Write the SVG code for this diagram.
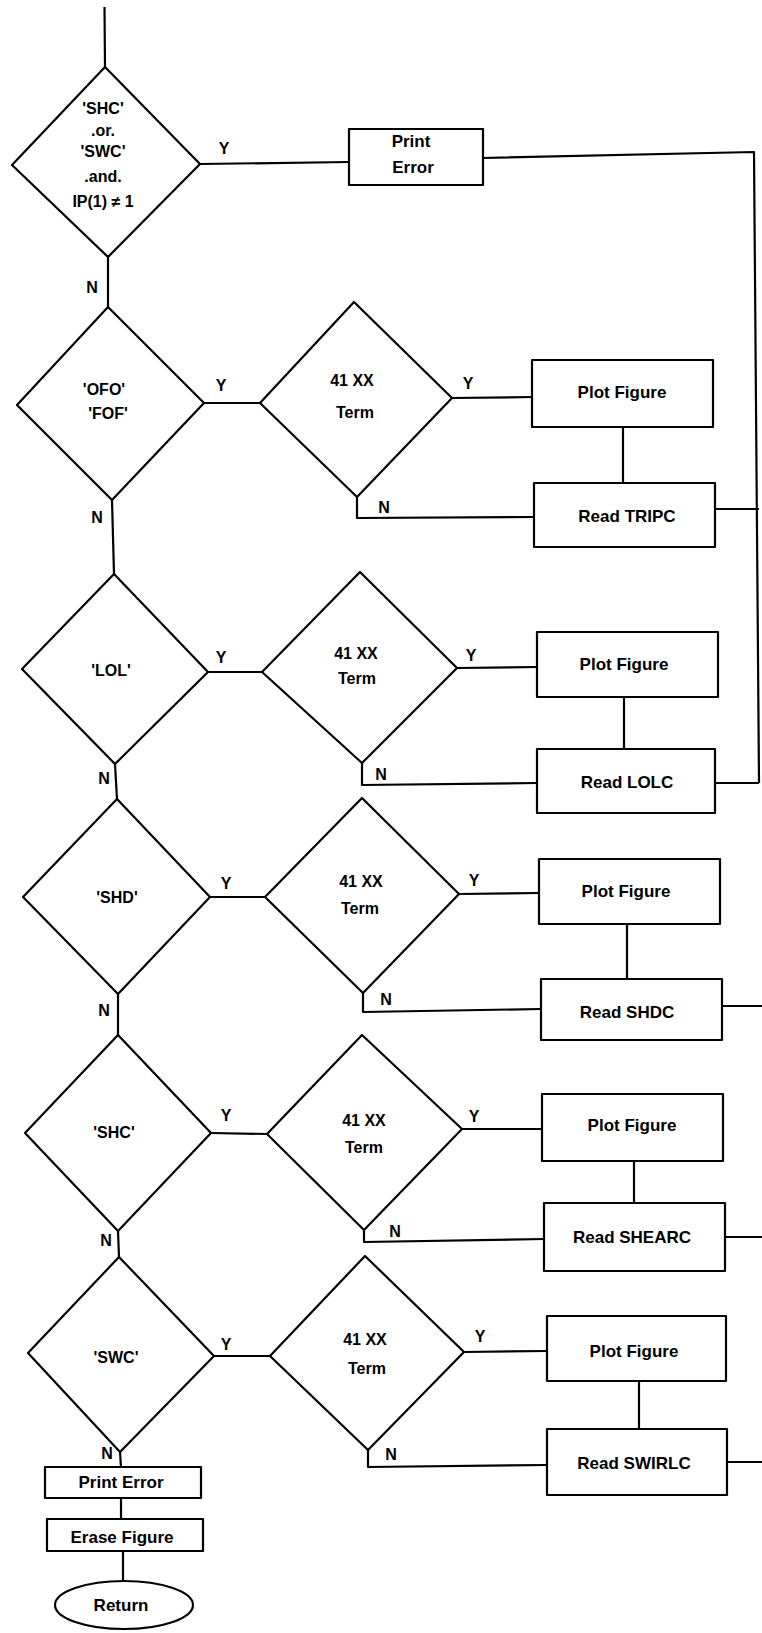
<svg xmlns="http://www.w3.org/2000/svg" width="762" height="1633" viewBox="0 0 762 1633">
<style>
.s{fill:#fff;stroke:#000;stroke-width:2.2;stroke-linejoin:round}
.c{fill:none;stroke:#000;stroke-width:2.2;stroke-linejoin:round}
text{font-family:"Liberation Sans",Arial,Helvetica,sans-serif;font-weight:bold;font-size:16px;text-anchor:middle;fill:#000}
.b{font-size:17px}
.l{font-size:16px}
</style>
<rect x="0" y="0" width="762" height="1633" fill="#fff"/>
<g id="connectors">
<path class="c" d="M104.5,7 L105,67"/>
<path class="c" d="M200,164 L349,162"/>
<path class="c" d="M483,158 L754,152 L759,783"/>
<path class="c" d="M108,257 L108,307"/>
<path class="c" d="M204,403 L260,403"/>
<path class="c" d="M452,398 L532,397"/>
<path class="c" d="M623,427 L623,483"/>
<path class="c" d="M357,497 L357,518 L534,517"/>
<path class="c" d="M715,509 L759,509"/>
<path class="c" d="M112,500 L114,574"/>
<path class="c" d="M208,672 L262,672"/>
<path class="c" d="M457,668 L537,667"/>
<path class="c" d="M624,697 L624,749"/>
<path class="c" d="M362,763 L362,785 L537,783"/>
<path class="c" d="M715,783 L759,783"/>
<path class="c" d="M115,764 L117,799"/>
<path class="c" d="M210,897 L265,897"/>
<path class="c" d="M459,894 L539,893"/>
<path class="c" d="M627,924 L627,979"/>
<path class="c" d="M363,993 L363,1012 L541,1009"/>
<path class="c" d="M722,1006 L762,1006"/>
<path class="c" d="M118,994 L118,1035"/>
<path class="c" d="M211,1133 L267,1134"/>
<path class="c" d="M462,1129 L542,1129"/>
<path class="c" d="M634,1161 L634,1203"/>
<path class="c" d="M364,1230 L364,1242 L544,1239"/>
<path class="c" d="M725,1237 L762,1237"/>
<path class="c" d="M118,1231 L119,1257"/>
<path class="c" d="M214,1356 L270,1356"/>
<path class="c" d="M464,1352 L547,1351"/>
<path class="c" d="M639,1381 L639,1429"/>
<path class="c" d="M368,1450 L368,1467 L547,1465"/>
<path class="c" d="M727,1462 L762,1462"/>
<path class="c" d="M120,1452 L121,1467"/>
<path class="c" d="M121,1498 L121,1519"/>
<path class="c" d="M123,1551 L123,1581"/>
<text class="l" x="224" y="154">Y</text>
<text class="l" x="92" y="293">N</text>
<text class="l" x="221" y="391">Y</text>
<text class="l" x="468" y="389">Y</text>
<text class="l" x="384" y="513">N</text>
<text class="l" x="97" y="523">N</text>
<text class="l" x="221" y="663">Y</text>
<text class="l" x="471" y="661">Y</text>
<text class="l" x="381" y="780">N</text>
<text class="l" x="104" y="784">N</text>
<text class="l" x="226" y="889">Y</text>
<text class="l" x="474" y="886">Y</text>
<text class="l" x="386" y="1005">N</text>
<text class="l" x="104" y="1016">N</text>
<text class="l" x="226" y="1121">Y</text>
<text class="l" x="474" y="1122">Y</text>
<text class="l" x="395" y="1237">N</text>
<text class="l" x="106" y="1246">N</text>
<text class="l" x="226" y="1350">Y</text>
<text class="l" x="480" y="1342">Y</text>
<text class="l" x="391" y="1460">N</text>
<text class="l" x="107" y="1459">N</text>
</g>
<g id="d1">
<polygon class="s" points="105,67 200,164 108,257 12,165"/>
<text x="103" y="114">'SHC'</text>
<text x="103" y="136">.or.</text>
<text x="103" y="157">'SWC'</text>
<text x="103" y="182">.and.</text>
<text x="103" y="207">IP(1) ≠ 1</text>
</g>
<g id="printError1">
<rect class="s" x="349" y="129" width="134" height="56"/>
<text class="b" x="411" y="147">Print</text>
<text class="b" x="413" y="173">Error</text>
</g>
<g id="d2">
<polygon class="s" points="108,307 204,403 112,500 17,405"/>
<text x="104" y="395">'OFO'</text>
<text x="108" y="419">'FOF'</text>
</g>
<g id="d3">
<polygon class="s" points="354,302 452,398 357,497 260,403"/>
<text x="352" y="386">41 XX</text>
<text x="355" y="418">Term</text>
</g>
<g id="plot1">
<rect class="s" x="532" y="360" width="181" height="67"/>
<text class="b" x="622" y="398">Plot Figure</text>
</g>
<g id="readTRIPC">
<rect class="s" x="534" y="483" width="181" height="64"/>
<text class="b" x="627" y="522">Read TRIPC</text>
</g>
<g id="d4">
<polygon class="s" points="114,574 208,672 115,764 22,669"/>
<text x="111" y="676">'LOL'</text>
</g>
<g id="d5">
<polygon class="s" points="360,572 457,668 362,763 262,672"/>
<text x="356" y="659">41 XX</text>
<text x="357" y="684">Term</text>
</g>
<g id="plot2">
<rect class="s" x="537" y="632" width="181" height="65"/>
<text class="b" x="624" y="670">Plot Figure</text>
</g>
<g id="readLOLC">
<rect class="s" x="537" y="749" width="178" height="64"/>
<text class="b" x="627" y="788">Read LOLC</text>
</g>
<g id="d6">
<polygon class="s" points="117,799 210,897 118,994 23,897"/>
<text x="117" y="903">'SHD'</text>
</g>
<g id="d7">
<polygon class="s" points="362,798 459,894 363,993 265,897"/>
<text x="361" y="887">41 XX</text>
<text x="360" y="914">Term</text>
</g>
<g id="plot3">
<rect class="s" x="539" y="859" width="181" height="65"/>
<text class="b" x="626" y="897">Plot Figure</text>
</g>
<g id="readSHDC">
<rect class="s" x="541" y="979" width="181" height="61"/>
<text class="b" x="627" y="1018">Read SHDC</text>
</g>
<g id="d8">
<polygon class="s" points="118,1035 211,1133 118,1231 25,1133"/>
<text x="114" y="1138">'SHC'</text>
</g>
<g id="d9">
<polygon class="s" points="362,1035 462,1129 364,1230 267,1134"/>
<text x="364" y="1126">41 XX</text>
<text x="364" y="1153">Term</text>
</g>
<g id="plot4">
<rect class="s" x="542" y="1094" width="181" height="67"/>
<text class="b" x="632" y="1131">Plot Figure</text>
</g>
<g id="readSHEARC">
<rect class="s" x="544" y="1203" width="181" height="68"/>
<text class="b" x="632" y="1243">Read SHEARC</text>
</g>
<g id="d10">
<polygon class="s" points="119,1257 214,1356 120,1452 28,1353"/>
<text x="116" y="1363">'SWC'</text>
</g>
<g id="d11">
<polygon class="s" points="365,1256 464,1352 368,1450 270,1356"/>
<text x="365" y="1345">41 XX</text>
<text x="367" y="1374">Term</text>
</g>
<g id="plot5">
<rect class="s" x="547" y="1316" width="179" height="65"/>
<text class="b" x="634" y="1357">Plot Figure</text>
</g>
<g id="readSWIRLC">
<rect class="s" x="547" y="1429" width="180" height="66"/>
<text class="b" x="634" y="1469">Read SWIRLC</text>
</g>
<g id="printError2">
<rect class="s" x="45" y="1467" width="156" height="31"/>
<text class="b" x="121" y="1488">Print Error</text>
</g>
<g id="eraseFigure">
<rect class="s" x="47" y="1519" width="156" height="32"/>
<text class="b" x="122" y="1543">Erase Figure</text>
</g>
<g id="return">
<ellipse class="s" cx="124" cy="1605" rx="69" ry="24"/>
<text class="b" x="121" y="1611">Return</text>
</g>
</svg>
